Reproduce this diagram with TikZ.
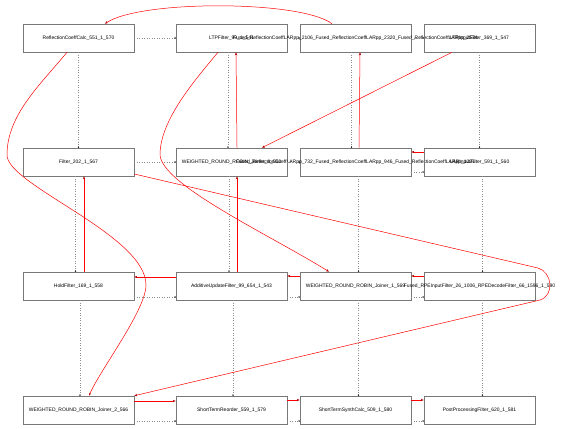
\documentclass[tikz,border=0pt]{standalone}
\usepackage{fontspec}
\setsansfont{Liberation Sans}
\usetikzlibrary{arrows.meta}
\definecolor{boxgray}{RGB}{120,120,120}
\definecolor{ordergray}{RGB}{140,140,140}
\tikzstyle{filterbox} = [rectangle, draw=boxgray, line width=0.6pt, minimum width=111bp, minimum height=28bp, inner sep=0pt]
\tikzstyle{fname} = [font=\sffamily\fontsize{5}{6}\selectfont, inner sep=0pt]
\tikzstyle{flow} = [draw=red, line width=0.5pt, -{Stealth[length=3bp,width=2.4bp,color=red!70!black]}]
\tikzstyle{order} = [draw=ordergray, line width=0.5pt, dotted, -{Circle[length=1.3bp,color=black]}]

\begin{document}
\begin{tikzpicture}[x=1bp, y=1bp, node distance=124bp]
            \useasboundingbox (0,0) rectangle (575,428);
            % first row
            \node (refl) [filterbox, label={[fname]center:ReflectionCoeffCalc\_551\_1\_570}] at (78.5,390) {};
            \node (ltp) [filterbox, right of = refl, xshift = 29bp, label={[fname]center:LTPFilter\_99\_1\_541}] {};
            \node (larppA) [filterbox, right of = ltp, label={[fname]center:Fused\_ReflectionCoeffLARpp\_2106\_Fused\_ReflectionCoeffLARpp\_2320\_Fused\_ReflectionCoeffLARpp\_2534}] {};
            \node (ltpin) [filterbox, right of = larppA, label={[fname]center:LTPInputFilter\_369\_1\_547}] {};
            % second row
            \node (filt) [filterbox, below of = refl, label={[fname]center:Filter\_202\_1\_567}] {};
            \node (joinA) [filterbox, below of = ltp, label={[fname]center:WEIGHTED\_ROUND\_ROBIN\_Joiner\_4\_562}] {};
            \node (larppB) [filterbox, below of = larppA, label={[fname]center:Fused\_ReflectionCoeffLARpp\_732\_Fused\_ReflectionCoeffLARpp\_946\_Fused\_ReflectionCoeffLARpp\_1221}] {};
            \node (larin) [filterbox, below of = ltpin, label={[fname]center:LARInputFilter\_591\_1\_560}] {};
            % third row
            \node (hold) [filterbox, below of = filt, label={[fname]center:HoldFilter\_169\_1\_558}] {};
            \node (addupd) [filterbox, below of = joinA, label={[fname]center:AdditiveUpdateFilter\_99\_654\_1\_543}] {};
            \node (joinB) [filterbox, below of = larppB, label={[fname]center:WEIGHTED\_ROUND\_ROBIN\_Joiner\_1\_569}] {};
            \node (rpe) [filterbox, below of = larin, label={[fname]center:Fused\_RPEInputFilter\_26\_1006\_RPEDecodeFilter\_66\_1596\_1\_590}] {};
            % fourth row
            \node (joinC) [filterbox, below of = hold, label={[fname]center:WEIGHTED\_ROUND\_ROBIN\_Joiner\_2\_566}] {};
            \node (reorder) [filterbox, below of = addupd, label={[fname]center:ShortTermReorder\_559\_1\_579}] {};
            \node (synth) [filterbox, below of = joinB, label={[fname]center:ShortTermSynthCalc\_509\_1\_580}] {};
            \node (post) [filterbox, below of = rpe, label={[fname]center:PostProcessingFilter\_620\_1\_581}] {};
            % order between neighbours
            \draw [order] (refl) -- (ltp);
            \draw [order] (ltp) -- (larppA);
            \draw [order] (larppA) -- (ltpin);
            \draw [order] (filt) -- (joinA);
            \draw [order] (joinA) -- (larppB);
            \draw [order] ([yshift=-10bp]larppB.east) -- ([yshift=-10bp]larin.west);
            \draw [order] ([yshift=-11bp]hold.east) -- ([yshift=-11bp]addupd.west);
            \draw [order] ([yshift=-11bp]addupd.east) -- ([yshift=-11bp]joinB.west);
            \draw [order] ([yshift=-11bp]joinB.east) -- ([yshift=-11bp]rpe.west);
            \draw [order] ([yshift=-11bp]joinC.east) -- ([yshift=-11bp]reorder.west);
            \draw [order] ([yshift=-11bp]reorder.east) -- ([yshift=-11bp]synth.west);
            \draw [order] ([yshift=-11bp]synth.east) -- ([yshift=-11bp]post.west);
            \draw [order] (refl) -- (filt);
            \draw [order] ([xshift=-3bp]filt.south) -- ([xshift=-3bp]hold.north);
            \draw [order] ([xshift=1.5bp]hold.south) -- ([xshift=1.5bp]joinC.north);
            \draw [order] ([xshift=-3.5bp]ltp.south) -- ([xshift=-3.5bp]joinA.north);
            \draw [order] ([xshift=-2.5bp]joinA.south) -- ([xshift=-2.5bp]addupd.north);
            \draw [order] ([xshift=1.5bp]addupd.south) -- ([xshift=1.5bp]reorder.north);
            \draw [order] ([xshift=-4bp]larppA.south) -- ([xshift=-4bp]larppB.north);
            \draw [order] ([xshift=3bp]larppB.south) -- ([xshift=3bp]joinB.north);
            \draw [order] ([xshift=3bp]joinB.south) -- ([xshift=3bp]synth.north);
            \draw [order] (ltpin) -- (larin);
            \draw [order] ([xshift=3bp]larin.south) -- ([xshift=3bp]rpe.north);
            \draw [order] ([xshift=3bp]rpe.south) -- ([xshift=3bp]post.north);
            % data flow
            \draw [flow] ([xshift=-23.5bp]larppA.north) .. controls (300,428) and (140,428) .. ([xshift=26.5bp]refl.north);
            \draw [flow] ([xshift=-11.5bp]refl.south) .. controls (40,343) and (7,313) .. (7,273)
                .. controls (7,243) and (146,193) .. (146,143)
                .. controls (146,118) and (100,58) .. ([xshift=10.5bp]joinC.north);
            \draw [flow] ([xshift=-13.5bp]ltp.south) .. controls (195,348) and (160,308) .. (160,273)
                .. controls (162,243) and (270,193) .. ([xshift=-26.5bp]joinB.north);
            \draw [flow] ([xshift=5.5bp]joinA.north) -- ([xshift=4.5bp]ltp.south);
            \draw [flow] ([xshift=3.5bp]larppB.north) -- ([xshift=4.5bp]larppA.south);
            \draw [flow] ([xshift=-27.5bp]ltpin.south) -- ([xshift=30.5bp]joinA.north);
            \draw [flow] ([yshift=10bp]larin.west) -- ([yshift=10bp]larppB.east);
            \draw [flow] ([xshift=5.5bp]hold.north) -- ([xshift=5.5bp]filt.south);
            \draw [flow] ([xshift=5.5bp]addupd.north) -- ([xshift=5.5bp]joinA.south);
            \draw [flow] ([yshift=-12bp]filt.east) -- (538,160) .. controls (552,156) and (555,133) .. (540,128) -- (joinC.north east);
            \draw [flow] ([yshift=9bp]addupd.west) -- ([yshift=9bp]hold.east);
            \draw [flow] ([yshift=10bp]joinB.west) -- ([yshift=10bp]addupd.east);
            \draw [flow] ([yshift=10bp]rpe.west) -- ([yshift=10bp]joinB.east);
            \draw [flow] ([yshift=9bp]joinC.east) -- ([yshift=9bp]reorder.west);
            \draw [flow] ([yshift=10bp]reorder.east) -- ([yshift=10bp]synth.west);
            \draw [flow] ([yshift=10bp]synth.east) -- ([yshift=10bp]post.west);
        \end{tikzpicture}
\end{document}
